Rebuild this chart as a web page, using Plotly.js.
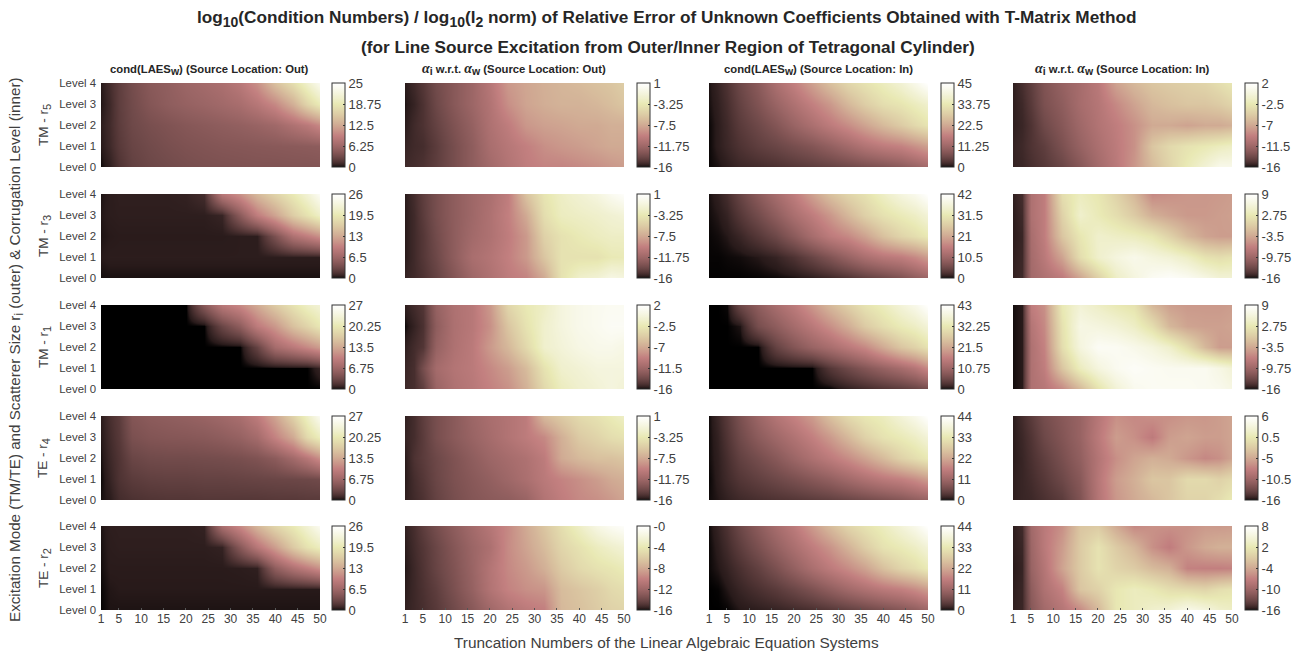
<!DOCTYPE html>
<html><head><meta charset="utf-8">
<script src="https://cdn.plot.ly/plotly-3.0.1.min.js"></script>
<style>html,body{margin:0;padding:0;background:#fff}#c{width:1304px;height:656px}</style></head>
<body><div id="c"></div>
<script>
// Truncation numbers sampled along x, corrugation levels along y
const truncation = [1,3,5,8,12,16,20,24,28,32,36,40,44,47,50];
const levels = [0,1,2,3,4];
const levelLabels = ["Level 0","Level 1","Level 2","Level 3","Level 4"];
const xTicks = [1,5,10,15,20,25,30,35,40,45,50];
const rowNames = [["TM - r","5"],["TM - r","3"],["TM - r","1"],["TE - r","4"],["TE - r","2"]];

// colour bar tick labels, row by row (top label is the colour maximum, bottom the minimum)
const bars = [
 [["25","18.75","12.5","6.25","0"],["1","-3.25","-7.5","-11.75","-16"],["45","33.75","22.5","11.25","0"],["2","-2.5","-7","-11.5","-16"]],
 [["26","19.5","13","6.5","0"],["1","-3.25","-7.5","-11.75","-16"],["42","31.5","21","10.5","0"],["9","2.75","-3.5","-9.75","-16"]],
 [["27","20.25","13.5","6.75","0"],["2","-2.5","-7","-11.5","-16"],["43","32.25","21.5","10.75","0"],["9","2.75","-3.5","-9.75","-16"]],
 [["27","20.25","13.5","6.75","0"],["1","-3.25","-7.5","-11.75","-16"],["44","33","22","11","0"],["6","0.5","-5","-10.5","-16"]],
 [["26","19.5","13","6.5","0"],["-0","-4","-8","-12","-16"],["44","33","22","11","0"],["8","2","-4","-10","-16"]]
];

// values: each panel lists Level 0 ... Level 4
const r5_out_cond = [
[0.15,0.6,1.5,2.4,2.9,3.2,3.5,3.7,3.8,3.9,4,4,4.1,4.1,4.2],
[0.4,1,1.9,2.7,3.2,3.6,3.9,4.1,4.3,4.4,4.5,4.6,4.7,4.8,4.9],
[0.5,1.1,2.1,3,3.6,4,4.4,4.7,5,5.3,5.7,6.3,7.5,8.5,10],
[0.3,1,2.2,3.2,4.3,5,5.5,5.9,6.4,7,8.2,10,13,16.5,19],
[0.4,1.2,2.2,3.4,4.6,5.2,6,6.6,7.2,8.4,10.5,14.5,17.5,20.5,23.5]];
const r5_out_alpha = [
[-15.3,-15.2,-15,-14.5,-13.6,-12.6,-11.6,-10.7,-9.9,-9.5,-9.5,-9.2,-8.9,-8.5,-8.2],
[-15.5,-15.3,-15.2,-14.6,-13.6,-12.6,-11.2,-10.4,-9.7,-8.9,-8.5,-8.2,-7.8,-7.5,-7.5],
[-15.7,-15.3,-15,-14.3,-13.3,-12.3,-10.9,-9.9,-8.5,-8,-7.8,-7.5,-7.5,-7.2,-7.2],
[-15.8,-15.5,-15,-14,-12.9,-11.9,-10.7,-8.9,-7.8,-7.3,-7,-7,-6.7,-6.3,-5.8],
[-15.7,-15.3,-14.8,-13.8,-12.9,-11.9,-10.4,-8.4,-7.7,-7.2,-6.8,-6.5,-6.1,-5.8,-5.3]];
const r5_in_cond = [
[0.2,0.45,0.9,1.6,2,2.5,3.2,3.8,4.5,5.4,6.3,7.2,8.5,10,11.7],
[0.2,0.9,1.6,2.7,4,5,6.3,7.6,9.5,11.7,14,15.8,17,19,21],
[0.2,0.9,1.8,3.6,5.4,7.6,10.4,13,15.8,18.5,21.6,25,28,30.6,32.8],
[0.4,1.1,2.2,4.5,7.2,10.4,13.5,16.7,20,24.7,28.4,31.5,33,35,37],
[0.5,1.4,2.7,5.4,8.5,13,16.7,21.2,26,30,32.4,35,38,41.4,45]];
const r5_in_alpha = [
[-15.5,-15.4,-15.1,-14.7,-14,-12.8,-11.3,-9.9,-8.1,-5.9,-4.1,-2.3,-0.7,0.6,0.6],
[-15.5,-15.3,-14.9,-14.4,-13.3,-12,-10.8,-9.7,-8.4,-5.2,-3.8,-3,-2.5,-2,-1.6],
[-15.6,-15.4,-14.9,-13.8,-12.8,-11.5,-10.4,-9.5,-8.4,-7,-7,-7.4,-7,-7,-6.6],
[-15.6,-15.3,-14.6,-13.3,-12.4,-11.1,-10.2,-8.8,-7.4,-6.1,-5.6,-5.2,-5.2,-4.8,-4.1],
[-15.6,-15.1,-14.4,-13.1,-12,-11.1,-9.9,-7.4,-6.1,-5.2,-4.8,-4.5,-4.1,-3.4,-2.7]];
const r3_out_cond = [
[0.2,0.25,0.25,0.25,0.25,0.25,0.25,0.25,0.25,0.25,0.25,0.25,0.25,0.25,0.25],
[0.4,0.5,0.5,0.5,0.5,0.5,0.5,0.5,0.5,0.5,0.5,0.5,0.5,0.5,0.5],
[0.3,0.4,0.45,0.45,0.45,0.45,0.45,0.45,0.45,0.5,0.5,3.9,7.8,9.4,11],
[0.35,0.5,0.55,0.55,0.55,0.55,0.55,0.55,0.8,5,9.4,12.5,16.4,18.7,21],
[0.3,0.5,0.6,0.6,0.6,0.6,0.7,1.2,8.6,11,14.3,17,19.5,22,25]];
const r3_out_alpha = [
[-15.5,-15.3,-15,-14.3,-13.1,-11.8,-10.9,-10,-9.5,-7.5,-3.8,-2.1,-1.6,-0.7,-1],
[-15.7,-15.3,-14.8,-14,-12.6,-11.2,-10.6,-9.7,-8.4,-5.8,-3.8,-3.8,-3.8,-3.2,-3.1],
[-15.7,-15.3,-14.8,-13.8,-12.6,-11.6,-10.9,-9.9,-8.4,-5,-3.8,-3.2,-2.7,-2.4,-2.4],
[-15.7,-15.3,-14.6,-13.6,-12.6,-11.8,-10.9,-9.7,-7.5,-4.1,-2.7,-2.4,-2.1,-1.7,-1.4],
[-15.7,-15.2,-14.5,-13.6,-12.6,-11.8,-11.1,-9.9,-6,-3.6,-2.4,-1.7,-1,0,0.7]];
const r3_in_cond = [
[0.05,0.05,0.05,0.05,0.1,0.2,0.4,0.8,1.5,2.5,3.8,5,6.5,8.4,10],
[0.1,0.1,0.2,0.3,0.6,1.2,2.5,4.5,6.8,9.5,12,13.9,15,16.8,19.3],
[0.15,0.3,0.6,1.4,3,5,8,11.5,14.7,16.8,20,24.4,27.7,29.4,31.5],
[0.3,0.6,1.2,3,5.5,8.5,12,15,18.5,23,27,30,32,33.6,36],
[0.4,1,2,4.5,8,11.5,15,19.7,24.4,27.7,30,33.6,37,39,42]];
const r3_in_alpha = [
[-15.3,-15,-9.5,-8.5,-7.3,-4,0,4,6,7.8,8.5,7.8,6.5,5.3,5.3],
[-15.4,-15.1,-9.3,-7.5,-4,1.5,4.5,6,7,6,5.3,4,2,1.5,2],
[-15.5,-15.2,-9,-7,-1,2.5,4.5,4,3.5,2.5,0.3,-2.3,-4,-4.5,-4.5],
[-15.5,-15,-8.5,-7,0.25,4.5,3,1.5,-0.5,-3,-4,-4.8,-4.8,-4.5,-4.3],
[-15.4,-14.8,-8.5,-7,1.5,3.5,2.5,0.3,-2.3,-6,-5.5,-5,-5,-4.8,-4.5]];
const r1_out_cond = [
[0,0,0,0,0,0,0,0,0,0,0,0,0,0,0],
[0,0,0,0,0,0,0,0,0,0,0,0,0,0,0.8],
[0,0,0,0,0,0,0,0,0,0,2.7,7.3,9.2,10.8,12.4],
[0,0,0,0,0,0,0,0,3,5.4,9.5,12,15.7,17.8,20],
[0,0,0,0,0,0,0,4.9,9,10.8,13.5,16.7,19.4,21.6,23]];
const r1_out_alpha = [
[-15.3,-15.1,-14.4,-11.8,-10.6,-10,-9.2,-8.4,-6.6,-3.8,-2,-1.2,-0.7,-0.2,-0.7],
[-15.4,-15.1,-13.5,-11.2,-10.3,-9.8,-8.8,-7.7,-5.9,-3,-1.2,-0.7,-0.2,-0.2,-0.2],
[-15.6,-15.2,-14.8,-12,-10.6,-9.8,-7.9,-6.1,-3.8,-1.2,-0.5,0.2,0.6,0.6,0.2],
[-15.9,-15.5,-15,-12.4,-10.7,-10,-8.4,-5.2,-3,-1.2,-0.2,0.6,0.9,1.3,1.3],
[-15.6,-15.2,-14.8,-12,-10.6,-10,-8,-4,-2.5,-1.6,-0.2,0.6,0.9,1.1,1.1]];
const r1_in_cond = [
[0,0,0,0,0,0,0,0,0,0.9,1.7,2.6,3.4,4.3,5.6],
[0,0,0,0,0,0,0,0,3,5.2,7.3,9.5,11.6,13.8,17.2],
[0,0,0,0,0,4.3,7.3,9.9,12,14.6,17.2,21.5,25.8,28,31],
[0,0,0,0.5,6,8.6,11.6,14.6,18,22,26.7,30,32.7,34.4,37],
[0,0,0.2,5,8.6,12,15,19,23.6,27.5,31,33.5,37,39.5,43]];
const r1_in_alpha = [
[-15.8,-15.6,-8.5,-7.8,-6,-2.3,2,5.3,7.3,7.8,7.8,7.8,7.5,7.3,6.5],
[-15.8,-15.6,-8.5,-7,-1,3.5,6,7.5,8.3,7.8,7.5,7.5,7.5,6.5,5.3],
[-15.8,-15.6,-8.5,-6.5,1.5,6,8,7.8,7,6,4.5,1.5,-2.3,-4.5,-4.5],
[-15.8,-15.6,-8,-6,2,6.5,6,5.3,4,1.5,-2.3,-4,-4.3,-4.3,-4],
[-15.8,-15.6,-7,-5.5,2.8,5.3,4,2.8,2,-2.3,-4.3,-4.8,-4.8,-4.8,-4.5]];
const r4_out_cond = [
[0.25,0.5,1.2,1.5,1.7,1.8,1.8,1.9,1.9,1.9,1.9,2,2,2.1,2.1],
[0.15,0.8,1.6,2.2,2.5,2.6,2.6,2.7,2.7,2.8,2.9,3,3.1,3.2,3.4],
[0.25,1,1.7,3,3.4,3.5,3.5,3.6,3.7,3.9,4.3,5.2,7,8.9,11.3],
[0.4,1.2,2,4,4.5,4.7,4.8,5,5.4,6,7.2,10.3,13.5,18.4,21],
[0.5,1.4,2.2,4.6,5.2,5.5,5.8,6.2,6.8,7.6,9.5,13,17.5,21.6,25.7]];
const r4_out_alpha = [
[-15.6,-15.3,-15,-14.3,-13.6,-13.1,-12.8,-12.6,-12.1,-10.7,-9.9,-9.2,-8.9,-8.4,-7.8],
[-15.7,-15.2,-14.8,-14.1,-13.4,-12.9,-12.4,-11.8,-11.1,-10.2,-9.5,-8.9,-8.2,-7.5,-7.2],
[-15.7,-15,-14.6,-14,-13.3,-12.6,-11.9,-11.4,-10.9,-10,-7.5,-6.6,-6.1,-6.1,-5.8],
[-15.5,-15.2,-14.6,-13.6,-12.8,-12.1,-11.4,-10.7,-10,-9.2,-7.2,-5.5,-4.8,-4.1,-3.8],
[-15.6,-15.2,-14.5,-13.6,-12.8,-11.9,-11.2,-10.7,-10,-6.6,-5.5,-4.4,-3.8,-3.1,-2.4]];
const r4_in_cond = [
[0.3,0.6,1.1,1.7,2.2,2.6,3,3.5,4,4.8,5.6,6.5,7.5,8.8,9.7],
[0.15,0.9,1.8,3,4.1,5.2,6.4,7.8,9.3,11.3,13.2,15,16.3,18,20.2],
[0.3,1,2.2,4.2,6,8,10.5,13,15.4,18,21,24.6,28.6,30.8,33],
[0.3,1.2,2.8,5.5,8.5,11,13.5,16.3,19.8,24.2,28.6,31.7,33.4,35.2,37.8],
[0.3,1.6,3.4,6.6,10.5,14,16.7,20,25.5,30,32.6,34.3,37.8,40.5,44]];
const r4_in_alpha = [
[-15.5,-15.3,-15.2,-14.8,-14.2,-12.5,-9,-6.3,-5,-3.9,-2.8,-1.5,-1.5,-0.6,0.7],
[-15.5,-15.3,-15,-14.4,-13.4,-12,-8.8,-5.9,-4.6,-2.8,-2.8,-1,-1,-1.7,-1],
[-15.6,-15.3,-14.8,-14,-12.8,-11.4,-9,-6.8,-5.4,-4.6,-5,-6.3,-7.3,-6.8,-5.4],
[-15.6,-15.2,-14.6,-13.4,-12.3,-11,-8.5,-5.9,-6.8,-8.3,-5.9,-5.4,-5.9,-5.9,-5.4],
[-15.6,-15,-14.2,-13,-12,-11,-8.8,-6.8,-7.2,-6.8,-6.8,-6.3,-6.3,-5.9,-5.4]];
const r2_out_cond = [
[0.05,0.3,0.3,0.3,0.3,0.3,0.3,0.3,0.3,0.3,0.3,0.3,0.3,0.3,0.3],
[0.1,0.35,0.4,0.4,0.4,0.4,0.4,0.4,0.4,0.4,0.4,0.4,0.4,0.4,0.4],
[0.2,0.45,0.45,0.45,0.45,0.45,0.45,0.45,0.45,0.5,0.6,5.2,7.8,9.4,11],
[0.25,0.5,0.55,0.55,0.55,0.55,0.55,0.55,0.7,4.7,8.6,12,16,18.7,20.3],
[0.3,0.55,0.6,0.6,0.6,0.6,0.6,0.7,7.3,10.4,14,17.2,19.5,22,24.7]];
const r2_out_alpha = [
[-15.6,-15.4,-15.2,-14.8,-14,-13.1,-12,-11.1,-10.5,-10.1,-7.2,-6.7,-6.1,-5.6,-5.4],
[-15.7,-15.4,-15.1,-14.6,-13.6,-12.5,-11,-9.9,-9.3,-9,-7,-6.4,-5.8,-5.1,-4.8],
[-15.8,-15.4,-15,-14.3,-13.4,-12.3,-10.9,-9.6,-8.8,-7.7,-6.1,-5.1,-4.5,-4.2,-3.8],
[-15.7,-15.3,-14.9,-14.2,-13.2,-12.2,-11.3,-9.5,-8.3,-7,-5.4,-4.5,-3.5,-2.9,-2.4],
[-15.6,-15.2,-14.6,-13.8,-12.8,-11.8,-10.8,-9.6,-8,-6.4,-4.8,-3.2,-1.6,-0.8,-0.3]];
const r2_in_cond = [
[0,0,0.1,0.6,0.9,1.2,1.7,2.2,3,4,5,6.2,7.5,8.8,10.6],
[0,0.1,0.6,1.4,2.4,3.5,5,6.8,9,11.3,13.2,15,16.3,18,20.2],
[0.2,0.6,1.2,2.4,4.2,6.6,9.5,12.6,15.4,18,21,25.5,29,30.8,33.4],
[0.2,0.9,1.9,3.8,6.5,9.5,12.6,15.8,19,23.3,27.7,31.7,33.4,35.2,37.8],
[0.3,1.3,2.6,5.2,8.5,12,15.3,19.8,24.6,29,31.7,34.3,37.8,40.5,44]];
const r2_in_alpha = [
[-15.4,-15.2,-11.7,-9.8,-8.3,-6.4,-2.8,1.8,2.7,3.7,4.4,6.1,5.1,3.7,3.2],
[-15.5,-15.2,-11.2,-8.8,-6.9,-1.6,-0.4,1.8,2.7,2,0.8,0.3,-0.2,0.8,1.3],
[-15.6,-15.3,-10.5,-8.3,-4.5,-1.1,1.3,-0.2,-1.1,-2.6,-3.5,-6.9,-7.1,-7.1,-6.9],
[-15.5,-15.2,-10.2,-7.8,-5,-1.1,1.3,-1.1,-3,-5.9,-7.4,-5.4,-4,-3.5,-3.5],
[-15.5,-15,-9.8,-7.8,-5.9,-1.6,-1.1,-4,-6.4,-5.9,-5.9,-5.9,-5.2,-5.2,-5]];

const panels = [
 [r5_out_cond,r5_out_alpha,r5_in_cond,r5_in_alpha],
 [r3_out_cond,r3_out_alpha,r3_in_cond,r3_in_alpha],
 [r1_out_cond,r1_out_alpha,r1_in_cond,r1_in_alpha],
 [r4_out_cond,r4_out_alpha,r4_in_cond,r4_in_alpha],
 [r2_out_cond,r2_out_alpha,r2_in_cond,r2_in_alpha]];

// MATLAB "pink" colour map
function pink(t){
  const h=[Math.min(1,t/0.375),Math.max(0,Math.min(1,(t-0.375)/0.375)),Math.max(0,(t-0.75)/0.25)];
  const c=h.map(v=>Math.round(255*Math.sqrt((2*t+v)/3)));
  return `rgb(${c[0]},${c[1]},${c[2]})`;
}
const colorscale=[];
for(let i=0;i<=64;i++) colorscale.push([i/64,pink(i/64)]);

const sub=(t,s)=>`<sub><span style="font-size:${s}px">${t}</span></sub>`;
const A=s=>`<span style="font-family:'Liberation Serif';font-style:italic;font-size:${s}px">α</span>`;
const colTitles = ["cond(LAES"+sub("w",10.5)+") (Source Location: Out)",
  A(14)+sub("i",10.5)+" w.r.t. "+A(14)+sub("w",10.5)+" (Source Location: Out)",
  "cond(LAES"+sub("w",10.5)+") (Source Location: In)",
  A(14)+sub("i",10.5)+" w.r.t. "+A(14)+sub("w",10.5)+" (Source Location: In)"];

const W=1304,H=656;
const colL=[101,405,709,1013], plotW=219;
const rowT=[83,194,305,416,526], plotH=84;
const barL=[332,637,941,1245];
const ink='#404040', dark='#262626';
const data=[],ann=[];
const layout={width:W,height:H,margin:{l:0,r:0,t:0,b:0},paper_bgcolor:'#fff',plot_bgcolor:'#fff',
  font:{family:'"Liberation Sans",Arial,sans-serif',size:11,color:ink},annotations:ann,showlegend:false};

panels.forEach((row,r)=>row.forEach((z,c)=>{
  const n=r*4+c+1, sx=n===1?'':n;
  const ticks=bars[r][c];
  data.push({type:'heatmap',x:truncation,y:levels,z:z,xaxis:'x'+sx,yaxis:'y'+sx,zsmooth:'best',
    colorscale:colorscale,zmin:Number(ticks[4]),zmax:Number(ticks[0]),hoverinfo:'skip',
    colorbar:{x:barL[c]/W,xanchor:'left',xpad:0,ypad:0,y:1-(rowT[r]+plotH/2)/H,yanchor:'middle',
      len:plotH,lenmode:'pixels',thickness:13,thicknessmode:'pixels',outlinewidth:1,outlinecolor:'#333',
      tickmode:'array',tickvals:ticks.map(Number),ticktext:ticks,ticks:'inside',ticklen:2,tickwidth:1,tickcolor:'#333',
      tickfont:{size:13,color:ink}}});
  layout['xaxis'+sx]={domain:[colL[c]/W,(colL[c]+plotW)/W],anchor:'y'+sx,range:[1,50],tickmode:'array',
    tickvals:xTicks,showticklabels:r===4,ticks:r===4?'inside':'',ticklen:2,tickcolor:'#555',showgrid:false,zeroline:false,showline:false,
    tickfont:{size:12,color:ink},tickangle:0};
  layout['yaxis'+sx]={domain:[1-(rowT[r]+plotH)/H,1-rowT[r]/H],anchor:'x'+sx,range:[0,4],tickmode:'array',
    tickvals:levels,ticktext:levelLabels,showticklabels:c===0,ticks:'',ticklabelstandoff:4,showgrid:false,zeroline:false,showline:false,
    tickfont:{size:11.4,color:ink}};
}));

function note(text,x,y,size,opts){
  ann.push(Object.assign({text:text,x:x/W,y:1-y/H,xref:'paper',yref:'paper',showarrow:false,xanchor:'center',yanchor:'middle',
    font:{size:size,color:ink}},opts||{}));
}
note("<b>log"+sub("10",14)+"(Condition Numbers) / log"+sub("10",14)+"(l"+sub("2",14)+" norm) of Relative Error of Unknown Coefficients Obtained with T-Matrix Method</b>",666,19,17.2,{font:{size:17.2,color:dark}});
note("<b>(for Line Source Excitation from Outer/Inner Region of Tetragonal Cylinder)</b>",668,47,17.2,{font:{size:17.2,color:dark}});
colTitles.forEach((t,c)=>note("<b>"+t+"</b>",[210,514,818.5,1122][c],c%2?69:69.5,11.3,{font:{size:11.3,color:dark}}));
rowNames.forEach((t,r)=>note(t[0]+sub(t[1],11),44,rowT[r]+plotH/2,13.5,{textangle:-90}));
note("Excitation Mode (TM/TE) and Scatterer Size r"+sub("i",12)+" (outer) &amp; Corrugation Level (inner)",16,350,15.2,{textangle:-90});
note("Truncation Numbers of the Linear Algebraic Equation Systems",666,642,15.4);

Plotly.newPlot('c',data,layout,{displayModeBar:false,staticPlot:true});
</script></body></html>
